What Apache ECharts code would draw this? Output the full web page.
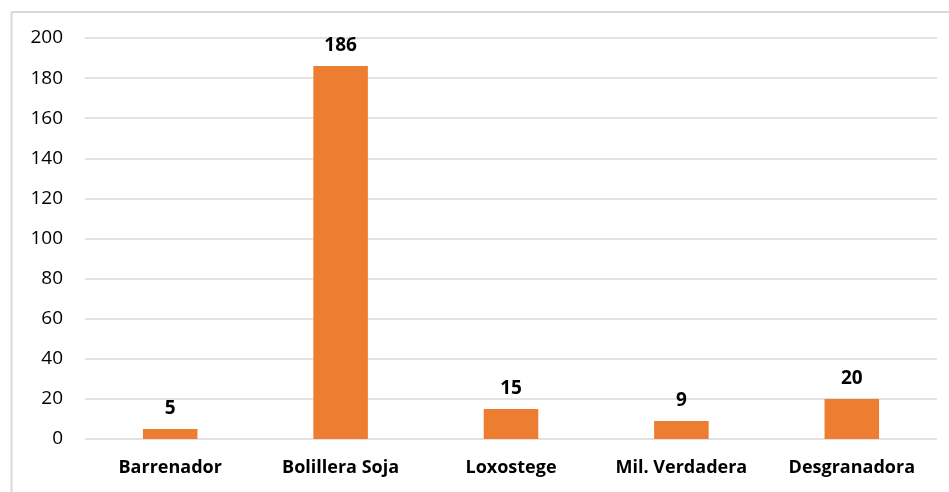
<!DOCTYPE html>
<html>
<head>
<meta charset="utf-8">
<script src="https://cdn.jsdelivr.net/npm/echarts@6/dist/echarts.min.js"></script>
<style>
  html, body { margin: 0; padding: 0; background: #fff; }
  #chart { width: 949px; height: 492px; }
</style>
</head>
<body>
<div id="chart"></div>
<script>
// categories and values
const categories = ["Barrenador", "Bolillera Soja", "Loxostege", "Mil. Verdadera", "Desgranadora"];
const values = [5, 186, 15, 9, 20];

const chart = echarts.init(document.getElementById("chart"));

const option = {
  animation: false,
  grid: { left: 85, right: 12, top: 38, bottom: 53, containLabel: false },
  // thin frame on top and left, like the cropped screenshot
  graphic: [
    { type: "line", shape: { x1: 11.5, y1: 12, x2: 949, y2: 12 }, style: { stroke: "#d9d9d9", lineWidth: 2 } },
    { type: "line", shape: { x1: 11.5, y1: 12, x2: 11.5, y2: 492 }, style: { stroke: "#d9d9d9", lineWidth: 2 } }
  ],
  xAxis: {
    type: "category",
    data: categories,
    axisTick: { show: false },
    axisLine: { show: false },
    axisLabel: {
      interval: 0,
      hideOverlap: false,
      color: "#000",
      fontFamily: "Open Sans",
      fontWeight: "bold",
      fontSize: 18,
      margin: 20
    }
  },
  yAxis: {
    type: "value",
    min: 0,
    max: 200,
    interval: 20,
    axisLine: { show: false },
    axisTick: { show: false },
    axisLabel: { color: "#000", fontFamily: "Open Sans", fontSize: 19, margin: 22 },
    splitLine: { lineStyle: { color: "#d9d9d9", width: 1.5 } }
  },
  series: [
    {
      type: "bar",
      data: values,
      barWidth: "32%",
      itemStyle: { color: "#ED7D31" },
      label: {
        show: true,
        position: "top",
        distance: 11,
        color: "#000",
        fontFamily: "Open Sans",
        fontWeight: "bold",
        fontSize: 19
      }
    }
  ]
};

chart.setOption(option);
</script>
</body>
</html>
